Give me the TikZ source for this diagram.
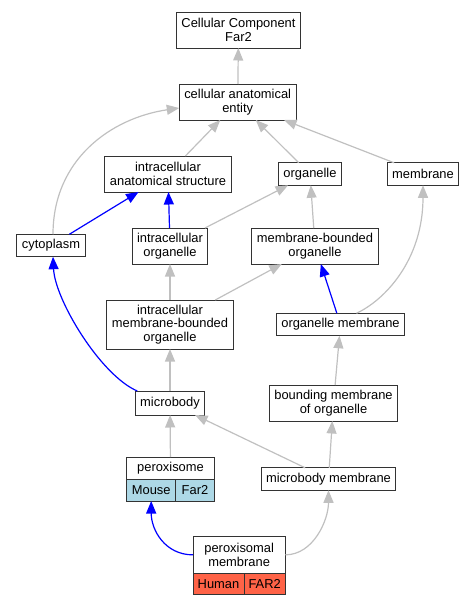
\documentclass[tikz,border=0pt]{standalone}
\usepackage{fontspec}
\setmainfont{Liberation Sans}
\usepackage{xcolor}
\usetikzlibrary{arrows.meta, positioning}
\definecolor{isagray}{HTML}{C0C0C0}
\definecolor{mouseblue}{HTML}{ADD8E6}
\definecolor{humanred}{HTML}{FF6347}
\definecolor{boxline}{HTML}{333333}

\begin{document}
\begin{tikzpicture}[x=1pt, y=-1pt,
    term/.style={draw=boxline, line width=1pt, rectangle, fill=white, inner xsep=5pt, inner ysep=2pt, outer sep=0pt, minimum height=22.5pt, align=center, font=\fontsize{12.9}{13.4}\selectfont},
    cell/.style={term, minimum height=21.3pt, inner xsep=0pt},
    isa/.style={draw=isagray, line width=1.2pt, -{Triangle[length=12.5pt, width=10pt]}},
    partof/.style={isa, draw=blue}]
    \useasboundingbox (0,0) rectangle (473,605);

    % upper terms
    \node[term, minimum height=36pt] (ccfar) at (238.5,30) {Cellular Component\\Far2};
    \node[term, minimum height=36pt] (cae) at (237.7,102) {cellular anatomical\\entity};
    \node[term, minimum height=36pt] (ias) at (168,174) {intracellular\\anatomical structure};
    \node[term] (org) at (310,174) {organelle};
    \node[term] (mem) at (423,174) {membrane};

    % middle terms
    \node[term] (cyto) at (51,245.5) {cytoplasm};
    \node[term, minimum height=36pt] (intorg) at (170,246) {intracellular\\organelle};
    \node[term, minimum height=36pt] (mbo) at (315,246) {membrane-bounded\\organelle};
    \node[term, minimum height=49pt] (imbo) at (170,324.5) {intracellular\\membrane-bounded\\organelle};
    \node[term] (orgmem) at (340.5,324.5) {organelle membrane};
    \node[term, minimum height=24pt] (mb) at (170,403) {microbody};
    \node[term, minimum height=36pt] (bmo) at (333.5,403) {bounding membrane\\of organelle};
    \node[term] (mbmem) at (328.5,479) {microbody membrane};

    % annotated terms
    \node[term, minimum width=87.6pt, minimum height=22.7pt] (pero) at (170.5,468.35) {peroxisome};
    \node[cell, fill=mouseblue, minimum width=49pt, anchor=north west] (peroMouse) at (pero.south west) {Mouse};
    \node[cell, fill=mouseblue, minimum width=38.6pt, anchor=north west] (peroFar) at (peroMouse.north east) {Far2};
    \node[term, minimum width=92.3pt, minimum height=36.3pt] (permem) at (239.15,554.85) {peroxisomal\\membrane};
    \node[cell, fill=humanred, minimum width=51pt, anchor=north west] (permemHuman) at (permem.south west) {Human};
    \node[cell, fill=humanred, minimum width=41.3pt, anchor=north west] (permemFar) at (permemHuman.north east) {FAR2};

    % edges
    \draw[isa] (cae) -- (ccfar);
    \draw[isa] (ias) -- (cae);
    \draw[isa] (org) -- (cae);
    \draw[isa] (mem) -- (cae);
    \draw[isa] ([xshift=2pt]cyto.north) .. controls +(0,-75) and +(-68,10) .. ([yshift=-6pt]cae.west);
    \draw[partof] (cyto) -- (ias);
    \draw[partof] (intorg) -- (ias);
    \draw[isa] (intorg) -- (org);
    \draw[isa] (mbo) -- (org);
    \draw[isa] (imbo) -- (intorg);
    \draw[isa] (imbo) -- (mbo);
    \draw[partof] (orgmem) -- (mbo);
    \draw[isa] ([xshift=16pt]orgmem.north) .. controls +(28,-13) and +(0,75) .. (mem.south);
    \draw[isa] (bmo) -- (orgmem);
    \draw[isa] (mb) -- (imbo);
    \draw[partof] ([xshift=2pt]mb.north west) .. controls +(-37,-16) and +(2,43) .. ([xshift=2pt]cyto.south);
    \draw[isa] (pero) -- (mb);
    \draw[isa] (mbmem) -- (mb);
    \draw[isa] (mbmem) -- (bmo);
    \draw[partof] (permem.west) .. controls +(-28,0) and +(0,29) .. (peroMouse.south);
    \draw[isa] (permem.east) .. controls +(28,0) and +(0,30) .. (mbmem.south);
\end{tikzpicture}
\end{document}
